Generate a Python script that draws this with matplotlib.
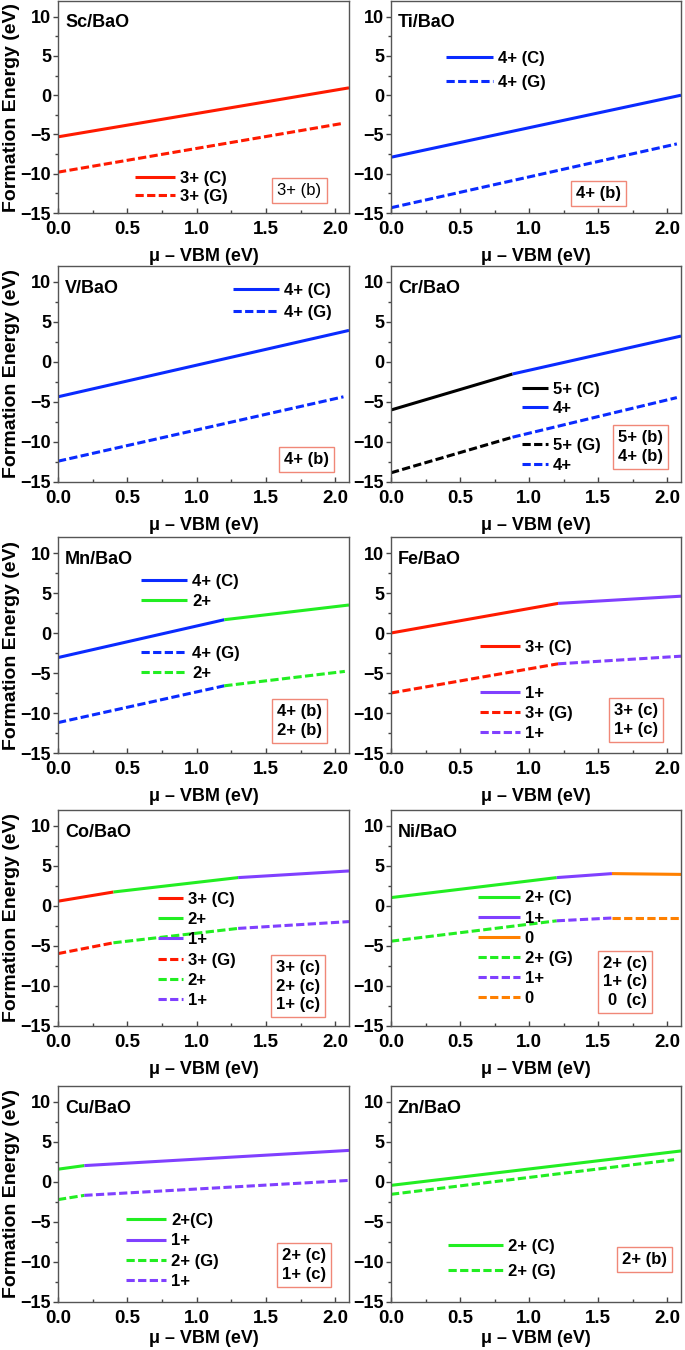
import matplotlib
matplotlib.use("Agg")
import matplotlib.pyplot as plt
from matplotlib.ticker import MultipleLocator

plt.rcParams["font.family"] = ["Liberation Sans", "DejaVu Sans"]
plt.rcParams["font.weight"] = "bold"
plt.rcParams["axes.labelweight"] = "bold"

# ---- data ----
elements = ["Sc", "Ti", "V", "Cr", "Mn", "Fe", "Co", "Ni", "Cu", "Zn"]

# charge state of each segment (same for the C and G curves)
states = [["3+"], ["4+"], ["4+"], ["5+", "4+"], ["4+", "2+"],
          ["3+", "1+"], ["3+", "2+", "1+"], ["2+", "1+", "0"],
          ["2+", "1+"], ["2+"]]

# break points of the (C) curves
c_x = [[0.0, 2.1], [0.0, 2.1], [0.0, 2.1], [0.0, 0.88, 2.1], [0.0, 1.2, 2.1],
       [0.0, 1.21, 2.1], [0.0, 0.4, 1.3, 2.1], [0.0, 1.2, 1.6, 2.1],
       [0.0, 0.19, 2.1], [0.0, 2.1]]
c_y = [[-5.3, 0.94], [-7.9, 0.0], [-4.35, 3.95], [-6.0, -1.5, 3.24], [-3.07, 1.66, 3.5],
       [0.0, 3.7, 4.6], [0.6, 1.75, 3.55, 4.38], [1.05, 3.55, 4.05, 3.95],
       [1.6, 2.05, 3.95], [-0.42, 3.88]]

# break points of the (G) curves
g_x = [[0.0, 2.05], [0.0, 2.07], [0.0, 2.06], [0.0, 0.88, 2.07], [0.0, 1.2, 2.07],
       [0.0, 1.21, 2.1], [0.0, 0.4, 1.3, 2.1], [0.0, 1.2, 1.6, 2.1],
       [0.0, 0.19, 2.1], [0.0, 2.05]]
g_y = [[-9.8, -3.6], [-14.33, -6.2], [-12.4, -4.35], [-13.85, -9.4, -4.45], [-11.2, -6.6, -4.8],
       [-7.5, -3.85, -2.9], [-5.95, -4.6, -2.8, -1.95], [-4.4, -1.85, -1.5, -1.5],
       [-2.2, -1.67, 0.2], [-1.54, 2.79]]

c_labels = [["3+ (C)"], ["4+ (C)"], ["4+ (C)"], ["5+ (C)", "4+"], ["4+ (C)", "2+"],
            ["3+ (C)", "1+"], ["3+ (C)", "2+", "1+"], ["2+ (C)", "1+", "0"],
            ["2+(C)", "1+"], ["2+ (C)"]]
g_labels = [["3+ (G)"], ["4+ (G)"], ["4+ (G)"], ["5+ (G)", "4+"], ["4+ (G)", "2+"],
            ["3+ (G)", "1+"], ["3+ (G)", "2+", "1+"], ["2+ (G)", "1+", "0"],
            ["2+ (G)", "1+"], ["2+ (G)"]]

boxes = ["3+ (b)", "4+ (b)", "4+ (b)", "5+ (b)\n4+ (b)", "4+ (b)\n2+ (b)",
         "3+ (c)\n1+ (c)", "3+ (c)\n2+ (c)\n1+ (c)", "2+ (c)\n1+ (c)\n0  (c)",
         "2+ (c)\n1+ (c)", "2+ (b)"]

state_colors = {"5+": "black", "4+": "#0a2bff", "3+": "#ff1a00",
                "2+": "#22ee22", "1+": "#8040ff", "0": "#ff8000"}

# ---- layout (pixels of a 685x1350 canvas) ----
W, H = 685, 1350
col_left = [58, 391]
col_width = [291, 290]
row_bottom = [213, 482, 753, 1026, 1302]
row_height = [212, 216, 216, 216, 216]
xlabel_gap = [35, 35, 35, 35, 28]

leg_x = [0.266, 0.19, 0.60, 0.45, 0.286, 0.307, 0.342, 0.30, 0.235, 0.197]
leg_groups = [[(0, 2, 0.12)], [(0, 2, 0.673)], [(0, 2, 0.836)],
              [(0, 2, 0.384), (2, 4, 0.123)], [(0, 2, 0.748), (2, 4, 0.414)],
              [(0, 1, 0.49), (1, 4, 0.185)], [(0, 6, 0.352)], [(0, 6, 0.36)],
              [(0, 4, 0.236)], [(0, 2, 0.2)]]
leg_step = [21, 26, 25, 22, 23, 22.5, 22.8, 22.6, 22.7, 28]
leg_hlen = [2.4, 2.8, 2.8, 1.6, 2.75, 2.4, 1.5, 2.5, 2.4, 3.3]
box_pos = [(0.83, 0.108), (0.717, 0.093), (0.855, 0.104), (0.862, 0.162),
           (0.83, 0.148), (0.845, 0.153), (0.826, 0.185), (0.807, 0.205),
           (0.845, 0.171), (0.875, 0.195)]

FS = 12
fs_px = FS * 100 / 72
LW = 2.2
DASH = (2.7, 1.1)

fig = plt.figure(figsize=(W / 100, H / 100), dpi=100)

for k, el in enumerate(elements):
    r, c = divmod(k, 2)
    x0, w = col_left[c], col_width[c]
    b, h = row_bottom[r], row_height[r]
    ax = fig.add_axes([x0 / W, 1 - b / H, w / W, h / H])
    ax.patch.set_visible(False)

    handles = []
    for xs, ys, dashed in ((c_x[k], c_y[k], False), (g_x[k], g_y[k], True)):
        for i, st in enumerate(states[k]):
            ln, = ax.plot(xs[i:i + 2], ys[i:i + 2], color=state_colors[st], lw=LW,
                          solid_capstyle="butt")
            if dashed:
                ln.set_dashes(DASH)
            handles.append(ln)
    labels = c_labels[k] + g_labels[k]

    ax.set_xlim(0, 2.1)
    ax.set_ylim(-15, 12)
    ax.xaxis.set_major_locator(MultipleLocator(0.5))
    ax.xaxis.set_minor_locator(MultipleLocator(0.25))
    ax.yaxis.set_major_locator(MultipleLocator(5))
    ax.yaxis.set_minor_locator(MultipleLocator(2.5))
    ax.tick_params(axis="y", which="major", direction="out", length=3.5, width=1,
                   labelsize=13, pad=1.5, color="#444444")
    ax.tick_params(axis="y", which="minor", direction="out", length=2, width=1,
                   color="#444444")
    ax.tick_params(axis="x", which="major", direction="in", length=3.5, width=1,
                   labelsize=13.5, pad=6, color="#444444")
    ax.tick_params(axis="x", which="minor", direction="in", length=2, width=1,
                   color="#444444")
    for sp in ax.spines.values():
        sp.set_color("#555555")
        sp.set_linewidth(1.0)

    ax.text(7 / w, 0.897, el + "/BaO", transform=ax.transAxes, fontsize=13,
            fontweight="bold", ha="left", va="center")

    ax.set_xlabel("\u03bc \u2013 VBM (eV)", fontsize=13)
    ax.xaxis.set_label_coords(0.5, -xlabel_gap[r] / h)
    if c == 0:
        ax.set_ylabel("Formation Energy (eV)", fontsize=14)
        ax.yaxis.set_label_coords(-38 / w, 0.5)

    spacing = max(leg_step[k] - 1.05 * fs_px, 0) / fs_px
    for j, (s, e, fy) in enumerate(leg_groups[k]):
        leg = ax.legend(handles[s:e], labels[s:e], loc="center left",
                        bbox_to_anchor=(leg_x[k], fy), frameon=False,
                        fontsize=FS, handlelength=leg_hlen[k], handletextpad=0.3,
                        labelspacing=spacing, borderpad=0, borderaxespad=0)
        if j < len(leg_groups[k]) - 1:
            ax.add_artist(leg)

    bx, by = box_pos[k]
    ax.text(bx, by, boxes[k], transform=ax.transAxes, fontsize=FS,
            fontweight="normal" if k == 0 else "bold", ha="center", va="center",
            multialignment="right", linespacing=1.3,
            bbox=dict(boxstyle="square,pad=0.3", fc="white", ec="#f08878", lw=1))

fig.savefig("out.png", dpi=100)
